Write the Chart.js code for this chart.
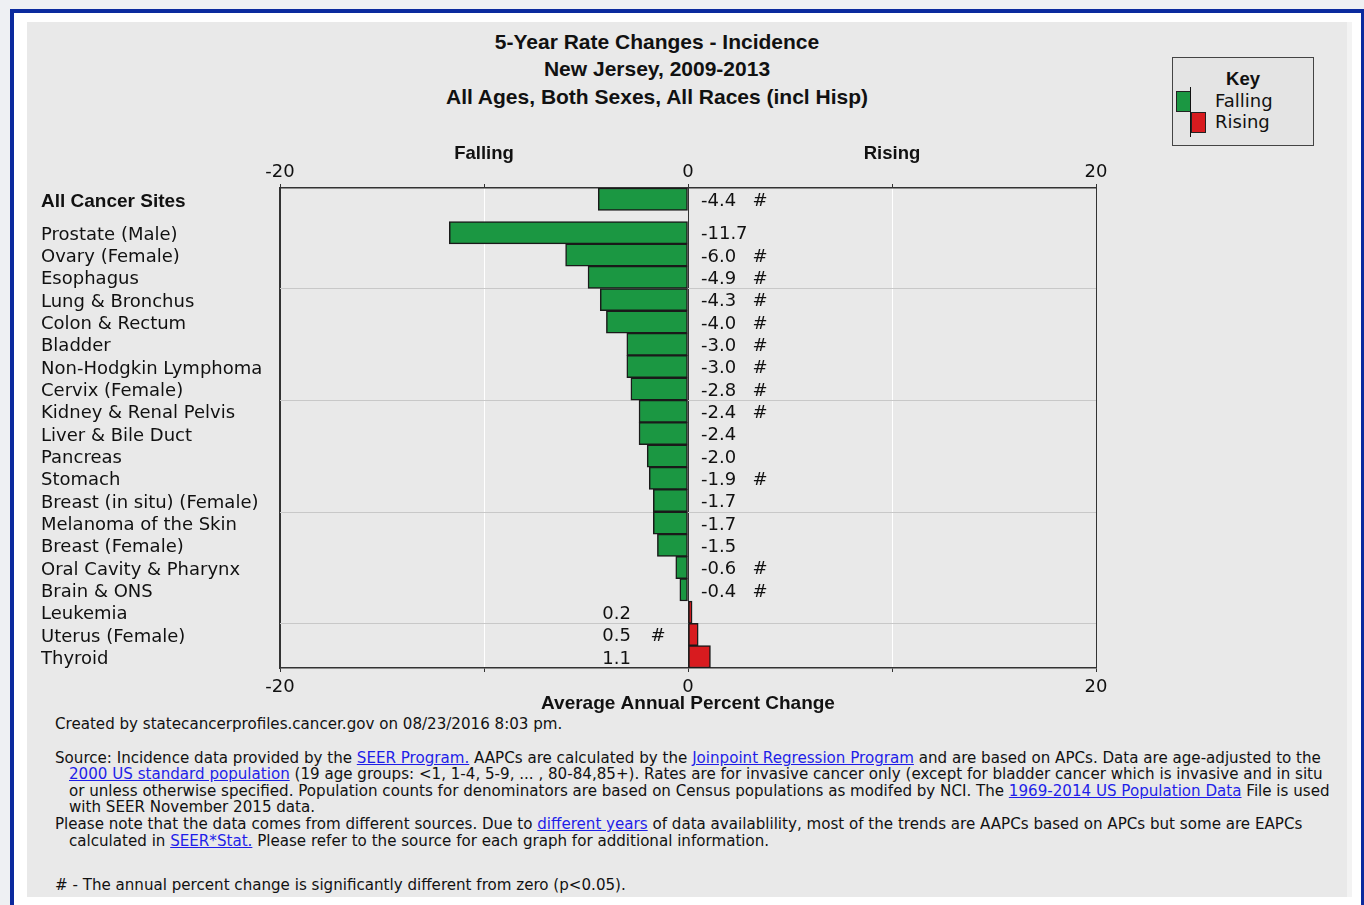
<!DOCTYPE html>
<html lang="en">
<head>
  <meta charset="UTF-8">
  <title>5-Year Rate Changes - Incidence</title>
  <script src="https://cdn.jsdelivr.net/npm/chart.js"></script>
  <style>
    body { margin: 0; width: 1364px; height: 905px; overflow: hidden; position: relative;
           background: #eef0f3; font-family: 'DejaVu Sans', sans-serif; color: #111; }
    .frame { position: absolute; left: 10px; top: 9px; width: 1347px; height: 920px;
             border: 4px solid #0b2a9e; background: #fff; }
    .panel { position: absolute; left: 27px; top: 22px; width: 1320px; height: 875px; background: #e9e9e9; }
    .band { position: absolute; left: 1347px; top: 22px; width: 5px; height: 875px; background: #f3f3f3; }
    #chart { position: absolute; left: 27px; top: 22px; }
    .title { position: absolute; left: 357px; width: 600px; text-align: center; line-height: 22px;
             font: bold 21px 'Liberation Sans', Arial, sans-serif; }
    .key { position: absolute; left: 1172px; top: 57px; width: 140px; height: 87px;
           border: 1px solid #444; background: #e4e4e4; }
    .key .hd { position: absolute; left: 0; width: 140px; top: 10px; text-align: center;
               font: bold 18.5px 'Liberation Sans', Arial, sans-serif; }
    .key .sw { position: absolute; width: 13px; border: 1px solid #222; }
    .key .bar { position: absolute; left: 17px; top: 29px; width: 1px; height: 50px; background: #111; }
    .key .lb { position: absolute; left: 42px; font-size: 18px; line-height: 20px; }
    .note { position: absolute; left: 55px; font-size: 15.1px; line-height: 17px; white-space: nowrap; }
    .note.ind { left: 69px; }
    .note a { color: #1e1ee8; text-decoration: underline; }
  </style>
</head>
<body>
  <div class="frame"></div>
  <div class="panel"></div>
  <div class="band"></div>

  <div class="title" style="top:30px">5-Year Rate Changes - Incidence</div>
  <div class="title" style="top:57px">New Jersey, 2009-2013</div>
  <div class="title" style="top:85px">All Ages, Both Sexes, All Races (incl Hisp)</div>

  <canvas id="chart" width="1321" height="693"></canvas>

  <!-- key box -->
  <div class="key">
    <div class="hd">Key</div>
    <div class="sw" style="left:3px; top:33px; height:19px; background:#1b9742"></div>
    <div class="sw" style="left:18px; top:54px; height:19px; background:#d81b1f"></div>
    <div class="bar"></div>
    <div class="lb" style="top:33px">Falling</div>
    <div class="lb" style="top:54px">Rising</div>
  </div>

  <!-- notes under the chart -->
  <div class="note" style="top:716px">Created by statecancerprofiles.cancer.gov on 08/23/2016 8:03 pm.</div>
  <div class="note" style="top:750px">Source: Incidence data provided by the <a>SEER Program.</a> AAPCs are calculated by the <a>Joinpoint Regression Program</a> and are based on APCs. Data are age-adjusted to the</div>
  <div class="note ind" style="top:766px"><a>2000 US standard population</a> (19 age groups: &lt;1, 1-4, 5-9, ... , 80-84,85+). Rates are for invasive cancer only (except for bladder cancer which is invasive and in situ</div>
  <div class="note ind" style="top:783px">or unless otherwise specified. Population counts for denominators are based on Census populations as modifed by NCI. The <a>1969-2014 US Population Data</a> File is used</div>
  <div class="note ind" style="top:799px">with SEER November 2015 data.</div>
  <div class="note" style="top:816px">Please note that the data comes from different sources. Due to <a>different years</a> of data availablility, most of the trends are AAPCs based on APCs but some are EAPCs</div>
  <div class="note ind" style="top:833px">calculated in <a>SEER*Stat.</a> Please refer to the source for each graph for additional information.</div>
  <div class="note" style="top:877px"># - The annual percent change is significantly different from zero (p&lt;0.05).</div>

  <script>
    // data
    const sites = ['All Cancer Sites', 'Prostate (Male)', 'Ovary (Female)', 'Esophagus',
      'Lung & Bronchus', 'Colon & Rectum', 'Bladder', 'Non-Hodgkin Lymphoma', 'Cervix (Female)',
      'Kidney & Renal Pelvis', 'Liver & Bile Duct', 'Pancreas', 'Stomach', 'Breast (in situ) (Female)',
      'Melanoma of the Skin', 'Breast (Female)', 'Oral Cavity & Pharynx', 'Brain & ONS',
      'Leukemia', 'Uterus (Female)', 'Thyroid'];
    const changes = [-4.4, -11.7, -6.0, -4.9, -4.3, -4.0, -3.0, -3.0, -2.8, -2.4, -2.4,
      -2.0, -1.9, -1.7, -1.7, -1.5, -0.6, -0.4, 0.2, 0.5, 1.1];
    const significant = [true, false, true, true, true, true, true, true, true, true, false,
      false, true, false, false, false, true, true, false, true, false];
    const axisTicks = [-20, -10, 0, 10, 20];
    const labeledTicks = [-20, 0, 20];

    const GREEN = '#1b9742';
    const RED = '#d81b1f';
    const DARK = '#333333';

    // the first row stands apart, half a row of space below it
    const rowPos = sites.map((s, i) => i === 0 ? 0.5 : i + 1);
    const separators = [4.5, 9.5, 14.5, 19.5];
    const labelNudge = 0.11; // site names sit a touch below the bar centre

    const gridColor = c => {
      const v = c.tick ? c.tick.value : null;
      return (v === 0 || Math.abs(v) === 20) ? DARK : '#ffffff';
    };

    const tickFont = { family: 'DejaVu Sans', size: 18 };
    const boldFont = { family: 'Liberation Sans', size: 19, weight: 'bold' };

    const xAxis = (position, extra) => Object.assign({
      type: 'linear', position: position, min: -20, max: 20,
      afterBuildTicks: s => { s.ticks = axisTicks.map(v => ({ value: v })); },
      border: { display: true, color: DARK, width: 1.5 },
      grid: { color: gridColor, tickColor: DARK, tickLength: 4, lineWidth: 1 }
    }, extra);

    const xTicks = pad => ({
      color: '#111', font: tickFont, maxRotation: 0, autoSkip: false, padding: pad,
      callback: v => labeledTicks.includes(v) ? String(v) : ''
    });

    const rowLines = {
      id: 'rowLines',
      beforeDatasetsDraw(chart) {
        const { ctx, chartArea } = chart;
        const y = chart.scales.y;
        ctx.save();
        ctx.strokeStyle = '#c8c8c8';
        ctx.lineWidth = 1;
        separators.forEach(p => {
          const py = Math.round(y.getPixelForValue(p)) + 0.5;
          ctx.beginPath();
          ctx.moveTo(chartArea.left, py);
          ctx.lineTo(chartArea.right, py);
          ctx.stroke();
        });
        ctx.restore();
      }
    };

    const valueLabels = {
      id: 'valueLabels',
      afterDatasetsDraw(chart) {
        const ctx = chart.ctx;
        const x0 = chart.scales.x.getPixelForValue(0);
        const bars = chart.getDatasetMeta(0).data;
        ctx.save();
        ctx.fillStyle = '#111';
        ctx.font = '18px "DejaVu Sans"';
        ctx.textBaseline = 'middle';
        bars.forEach((bar, i) => {
          const v = changes[i];
          const txt = v.toFixed(1);
          const y = bar.y + 2;
          if (v < 0) {
            ctx.textAlign = 'left';
            ctx.fillText(txt, x0 + 13, y);
            if (significant[i]) { ctx.textAlign = 'center'; ctx.fillText('#', x0 + 72, y); }
          } else {
            ctx.textAlign = 'right';
            ctx.fillText(txt, x0 - 57, y);
            if (significant[i]) { ctx.textAlign = 'center'; ctx.fillText('#', x0 - 30, y); }
          }
        });
        ctx.restore();
      }
    };

    const sideHeads = {
      id: 'sideHeads',
      afterDraw(chart) {
        const ctx = chart.ctx;
        const x2 = chart.scales.x2;
        ctx.save();
        ctx.fillStyle = '#111';
        ctx.font = 'bold 18.5px "Liberation Sans"';
        ctx.textAlign = 'center';
        ctx.textBaseline = 'middle';
        ctx.fillText('Falling', x2.getPixelForValue(-10), 132);
        ctx.fillText('Rising', x2.getPixelForValue(10), 132);
        ctx.restore();
      }
    };

    new Chart(document.getElementById('chart'), {
      type: 'bar',
      data: {
        datasets: [{
          data: changes.map((v, i) => ({ x: v, y: rowPos[i] })),
          backgroundColor: changes.map(v => v < 0 ? GREEN : RED),
          borderColor: '#1a1a1a',
          borderWidth: 1.5,
          borderSkipped: false,
          barPercentage: 1,
          categoryPercentage: 1
        }]
      },
      options: {
        indexAxis: 'y',
        responsive: false,
        animation: false,
        layout: { padding: { left: 14, right: 252, top: 0, bottom: 0 } },
        plugins: { legend: { display: false }, tooltip: { enabled: false } },
        scales: {
          y: {
            type: 'linear', position: 'left', reverse: true, offset: false,
            min: 0, max: sites.length + 0.5,
            afterBuildTicks: s => { s.ticks = rowPos.map(v => ({ value: v + labelNudge })); },
            afterFit: s => { s.width = 239; },
            grid: { display: false, offset: false },
            border: { display: true, color: DARK, width: 1.5 },
            ticks: {
              crossAlign: 'far', autoSkip: false, color: '#111',
              callback: (v, i) => sites[i],
              font: c => c.index === 0 ? boldFont : tickFont
            }
          },
          x: xAxis('bottom', {
            afterFit: s => { s.height = 47; },
            ticks: xTicks(5),
            title: {
              display: true, text: 'Average Annual Percent Change', color: '#111',
              font: boldFont, padding: 0
            }
          }),
          x2: xAxis('top', {
            afterFit: s => { s.height = 166; },
            grid: { drawOnChartArea: false, tickColor: DARK, tickLength: 4 },
            ticks: xTicks(1)
          })
        }
      },
      plugins: [rowLines, valueLabels, sideHeads]
    });
  </script>
</body>
</html>
